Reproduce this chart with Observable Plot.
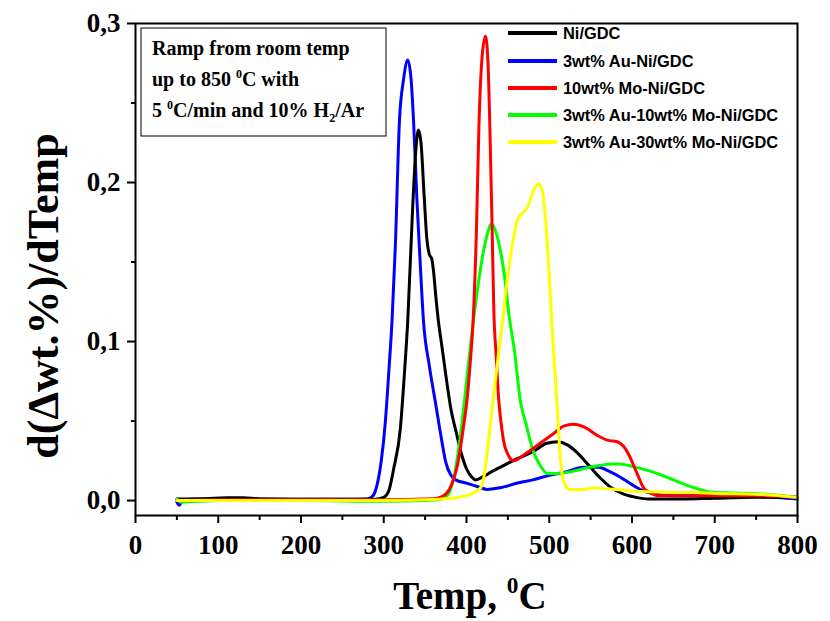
<!DOCTYPE html>
<html>
<head>
<meta charset="utf-8">
<script src="https://cdn.jsdelivr.net/npm/d3@7"></script>
<script src="https://cdn.jsdelivr.net/npm/@observablehq/plot@0.6"></script>
<style>
  body { margin: 0; background: #fff; }
  #chart { width: 830px; height: 621px; }
</style>
</head>
<body>
<div id="chart"></div>
<script>
// ---- data (Temp °C, d(Δwt.%)/dTemp) ----
const seriesNames = ["Ni/GDC", "3wt% Au-Ni/GDC", "10wt% Mo-Ni/GDC", "3wt% Au-10wt% Mo-Ni/GDC", "3wt% Au-30wt% Mo-Ni/GDC"];
const seriesColors = ["#000000", "#0000ff", "#ff0000", "#00ff00", "#ffff00"];

const niGDC = [
  [50,0.001],[80,0.001],[110,0.0018],[130,0.0018],[150,0.001],[200,0.0008],[250,0.0008],[290,0.0008],
  [300,0.002],[306,0.006],[312,0.02],[320,0.045],[325,0.08],[329,0.113],[335,0.185],[339,0.222],[342,0.233],
  [345,0.225],[349,0.19],[352,0.165],[355,0.155],[358,0.152],[360,0.145],[363,0.128],[366,0.113],[370,0.098],
  [375,0.079],[381,0.058],[388,0.042],[393,0.031],[400,0.02],[406,0.015],[411,0.013],[420,0.015],[430,0.018],
  [441,0.021],[460,0.026],[481,0.031],[497,0.036],[510,0.037],[522,0.035],[534,0.030],[548,0.022],[562,0.014],
  [575,0.008],[590,0.004],[605,0.002],[620,0.001],[660,0.001],[700,0.0015],[750,0.002],[800,0.002]
];
const auNiGDC = [
  [50,-0.001],[53,-0.003],[56,0.0],[70,0.001],[100,0.0012],[150,0.001],[200,0.0008],[250,0.0008],[280,0.001],
  [287,0.003],[292,0.01],[297,0.025],[302,0.05],[306,0.08],[310,0.113],[314,0.16],[319,0.239],[324,0.265],
  [329,0.277],[333,0.265],[336,0.239],[340,0.19],[344,0.15],[348,0.113],[355,0.085],[363,0.06],[370,0.038],
  [375,0.024],[381,0.016],[387,0.013],[400,0.011],[412,0.009],[425,0.007],[440,0.008],[462,0.011],[480,0.013],
  [501,0.016],[520,0.018],[541,0.021],[560,0.021],[570,0.019],[585,0.015],[600,0.010],[614,0.006],[630,0.004],
  [650,0.003],[700,0.003],[750,0.0025],[800,0.001]
];
const moNiGDC = [
  [50,0.0],[100,0.0005],[200,0.0005],[300,0.0005],[350,0.001],[365,0.0015],[375,0.004],[382,0.01],[389,0.022],
  [396,0.045],[401,0.065],[405,0.09],[408,0.113],[412,0.17],[415,0.235],[419,0.28],[423,0.292],[426,0.275],
  [428,0.24],[431,0.17],[433,0.12],[436,0.09],[439,0.063],[442,0.048],[445,0.037],[450,0.029],[457,0.025],
  [470,0.029],[489,0.036],[505,0.042],[518,0.047],[529,0.048],[543,0.046],[558,0.041],[570,0.038],[582,0.037],
  [590,0.034],[596,0.029],[602,0.022],[607,0.016],[614,0.008],[622,0.005],[631,0.003],[660,0.003],[700,0.003],
  [750,0.003],[800,0.002]
];
const auMo10NiGDC = [
  [50,0.001],[55,-0.001],[100,0.0],[200,0.0],[300,-0.0005],[350,0.0],[370,0.001],[378,0.004],[385,0.015],
  [393,0.042],[402,0.084],[410,0.12],[421,0.158],[426,0.169],[430,0.174],[436,0.168],[441,0.157],[447,0.137],
  [451,0.118],[458,0.094],[465,0.063],[472,0.048],[480,0.032],[488,0.023],[498,0.017],[510,0.017],[525,0.018],
  [541,0.020],[560,0.022],[575,0.023],[585,0.023],[600,0.0215],[622,0.0185],[643,0.0145],[662,0.0105],
  [683,0.0068],[700,0.005],[743,0.0045],[800,0.002]
];
const auMo30NiGDC = [
  [50,0.0],[100,0.0],[200,0.0],[300,0.0],[350,0.0005],[370,0.001],[390,0.002],[405,0.004],[412,0.006],
  [417,0.008],[420,0.012],[425,0.03],[431,0.058],[437,0.085],[444,0.115],[450,0.142],[456,0.163],[462,0.177],
  [468,0.181],[472,0.183],[477,0.189],[482,0.196],[487,0.199],[491,0.196],[495,0.18],[499,0.15],[503,0.113],
  [507,0.08],[510,0.055],[513,0.03],[516,0.015],[520,0.009],[525,0.007],[541,0.007],[555,0.008],[565,0.0075],
  [580,0.007],[600,0.006],[622,0.0055],[650,0.005],[674,0.005],[700,0.0045],[750,0.004],[800,0.002]
];
const seriesData = [niGDC, auNiGDC, moNiGDC, auMo10NiGDC, auMo30NiGDC];
const drawOrder = [1, 0, 3, 2, 4];

const xMajorTicks = [0, 100, 200, 300, 400, 500, 600, 700, 800];
const xMinorTicks = [50, 150, 250, 350, 450, 550, 650, 750];
const yMajorTicks = [0.0, 0.1, 0.2, 0.3];
const yMinorTicks = [0.05, 0.15, 0.25];

const rows = [];
seriesData.forEach((arr, i) => arr.forEach(([T, v]) => rows.push({series: seriesNames[i], idx: i, T, v})));

const serif = "'Liberation Serif', 'Times New Roman', serif";
const sans = "'Liberation Sans', Arial, sans-serif";

const plot = Plot.plot({
  width: 830,
  height: 621,
  marginLeft: 135,
  marginRight: 33,
  marginTop: 23,
  marginBottom: 106,
  style: {fontFamily: serif, fontWeight: "bold", background: "#fff", color: "#000"},
  x: {domain: [0, 800]},
  y: {domain: [-0.0094, 0.3]},
  marks: [
    ...drawOrder.map(i => Plot.line(rows.filter(d => d.idx === i), {
      x: "T", y: "v", stroke: seriesColors[i], strokeWidth: 3, curve: "monotone-x"
    })),
    Plot.frame({stroke: "#000", strokeWidth: 2}),
    Plot.axisY({ticks: yMajorTicks, tickSize: 8, tickPadding: 7, strokeWidth: 2, label: null,
      tickFormat: d => d.toFixed(1).replace(".", ","), fontSize: 27, fontWeight: "bold", fontFamily: serif}),
    Plot.axisY({ticks: yMinorTicks, tickSize: 4, strokeWidth: 2, label: null, tickFormat: () => ""}),
    Plot.axisX({ticks: xMajorTicks, tickSize: 8, tickPadding: 11, strokeWidth: 2, label: null,
      tickFormat: d => String(d), fontSize: 27, fontWeight: "bold", fontFamily: serif}),
    Plot.axisX({ticks: xMinorTicks, tickSize: 5, strokeWidth: 2, label: null, tickFormat: () => ""})
  ]
});

const svg = d3.select(plot);
const g = svg.append("g").attr("class", "decor").attr("text-anchor", "start");

function richText(parent, x, y, parts, fs, family, anchor) {
  const t = parent.append("text")
    .attr("x", x).attr("y", y)
    .attr("font-family", family).attr("font-weight", "bold")
    .attr("font-size", fs).attr("fill", "#000")
    .attr("text-anchor", anchor || "start");
  let shift = 0;
  parts.forEach(p => {
    const ts = t.append("tspan").text(p.t);
    let target = 0;
    if (p.sup) { target = -fs * 0.42; ts.attr("font-size", fs * 0.6); }
    else if (p.sub) { target = fs * 0.25; ts.attr("font-size", fs * 0.6); }
    if (target !== shift) { ts.attr("dy", target - shift); shift = target; }
  });
  return t;
}

// Annotation box
g.append("rect").attr("x", 141).attr("y", 28).attr("width", 245).attr("height", 108)
  .attr("fill", "#fff").attr("stroke", "#000").attr("stroke-width", 1);
richText(g, 152, 55, [{t: "Ramp from room temp"}], 20, serif);
richText(g, 152, 86, [{t: "up to 850 "}, {t: "0", sup: true}, {t: "C with"}], 20, serif);
richText(g, 152, 117, [{t: "5 "}, {t: "0", sup: true}, {t: "C/min and 10% H"}, {t: "2", sub: true}, {t: "/Ar"}], 20, serif);

// Legend
const legendY = [33, 61, 88, 115, 142];
seriesNames.forEach((name, i) => {
  g.append("line").attr("x1", 508).attr("x2", 557).attr("y1", legendY[i]).attr("y2", legendY[i])
    .attr("stroke", seriesColors[i]).attr("stroke-width", 4);
  g.append("text").attr("transform", `translate(563,${legendY[i]}) scale(0.965,1)`)
    .attr("dy", "0.36em").attr("text-anchor", "start")
    .attr("font-family", sans).attr("font-weight", "bold").attr("font-size", 17)
    .attr("fill", "#000").text(name);
});

// Axis titles
richText(g, 470, 609, [{t: "Temp, "}, {t: "0", sup: true}, {t: "C"}], 39, serif, "middle");
const yl = g.append("g").attr("transform", "translate(58,296) rotate(-90)");
richText(yl, 0, 0, [{t: "d(\u0394wt.%)/dTemp"}], 44, serif, "middle");

document.getElementById("chart").appendChild(plot);
</script>
</body>
</html>
